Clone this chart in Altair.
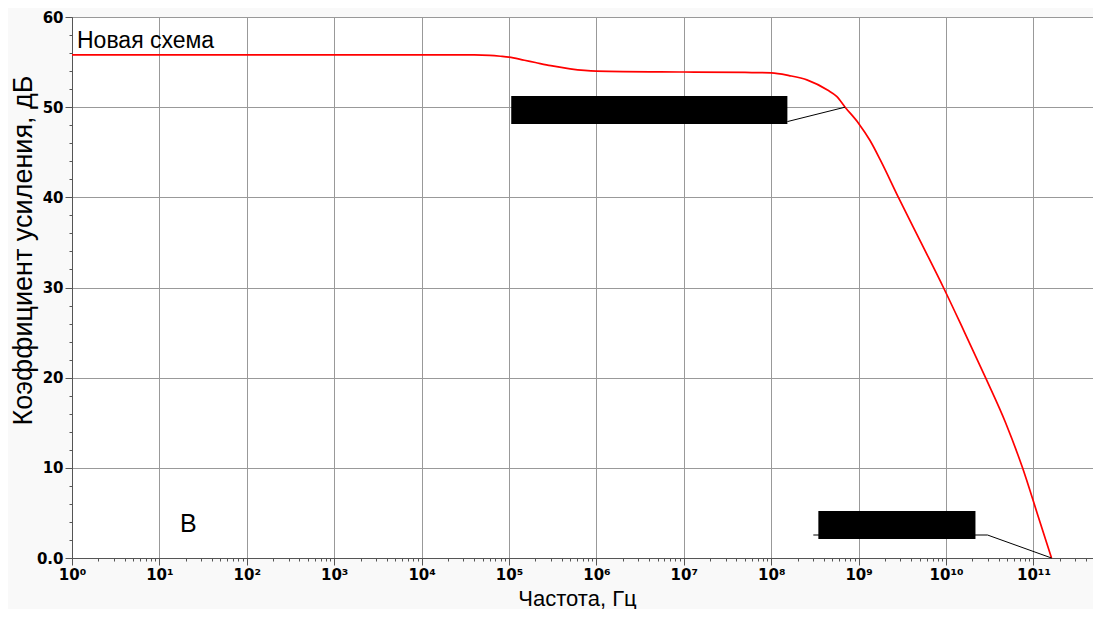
import json
import altair as alt
import pandas as pd

# ---- data ----
freq = [1, 1e4, 4e4, 6e4, 8e4, 1e5, 1.5e5, 2e5, 3e5, 5e5, 1e6, 1e7, 5e7, 1e8,
        1.6e8, 2.6e8, 4.4e8, 5.6e8, 7e8, 1e9, 1.35e9, 1.78e9, 2.85e9, 5.16e9,
        9.33e9, 1.58e10, 2.83e10, 4.8e10, 7.5e10, 1.1e11, 1.61e11]
gain = [55.8, 55.8, 55.8, 55.75, 55.65, 55.55, 55.2, 54.95, 54.6, 54.25, 54.0,
        53.9, 53.85, 53.8, 53.5, 53.0, 51.9, 51.2, 50.0, 48.2, 46.3, 44.1, 40.0,
        35.0, 30.0, 25.3, 20.0, 15.0, 10.0, 5.0, 0.0]

x_tick_labels = ["10⁰", "10¹", "10²", "10³", "10⁴", "10⁵", "10⁶", "10⁷",
                 "10⁸", "10⁹", "10¹⁰", "10¹¹"]
x_domain = [1, 4.8e11]
y_domain = [0, 60]

# annotation boxes (redacted labels) and leader lines, in data units
box_x1 = [1.06e5, 3.46e8]
box_x2 = [1.53e8, 2.17e10]
box_y1 = [48.13, 2.11]
box_y2 = [51.24, 5.21]

lead_x = [1.53e8, 7.0e8, 3.03e8, 2.98e10, 1.61e11]
lead_y = [48.4, 50.0, 2.55, 2.55, 0.0]
lead_grp = [1, 1, 2, 2, 2]

text_label = ["Новая схема"]
text_x = [1.14]
text_y = [56.56]
mark_label = ["В"]
mark_x = [17.2]
mark_y = [2.88]

# ---- tick positions ----
x_major = [10 ** k for k in range(0, 12)]
x_minor = [m * 10 ** k for k in range(0, 12) for m in range(2, 10) if m * 10 ** k <= x_domain[1]]
x_values = sorted(x_major + x_minor)
y_values = list(range(0, 61, 2))

is_decade = "abs(log(datum.value)/LN10 - round(log(datum.value)/LN10)) < 0.001"
x_label_expr = f"({is_decade}) ? {json.dumps(x_tick_labels, ensure_ascii=False)}[round(log(datum.value)/LN10)] : ''"
is_ten = "datum.value % 10 == 0"

AXIS_COLOR = "#555555"
GRID_COLOR = "#999999"

x_axis = alt.Axis(
    values=x_values,
    labelExpr=x_label_expr,
    title="Частота, Гц",
    titleFont="Liberation Sans", titleFontSize=22, titleFontWeight="normal",
    titleColor="black", titleX=505, titleY=47,
    titleAlign="center", titleBaseline="alphabetic",
    labelFont="DejaVu Sans", labelFontSize=15, labelFontWeight="bold",
    labelColor="black", labelPadding=2, labelFlush=False, labelOverlap=False,
    tickSize={"condition": {"test": is_decade, "value": 7}, "value": 3},
    tickColor=AXIS_COLOR, domainColor=AXIS_COLOR,
    gridColor=GRID_COLOR,
    gridOpacity={"condition": {"test": is_decade, "value": 1}, "value": 0},
)
y_axis = alt.Axis(
    values=y_values,
    labelExpr=f"datum.value == 0 ? '0.0' : (({is_ten}) ? datum.label : '')",
    title="Коэффициент усиления, дБ",
    titleFont="Liberation Sans", titleFontSize=27, titleFontWeight="normal",
    titleColor="black", titleX=-41, titleY=233, titleAngle=270,
    titleAlign="center", titleBaseline="alphabetic",
    labelFont="DejaVu Sans", labelFontSize=15, labelFontWeight="bold",
    labelColor="black", labelPadding=2, labelFlush=False, labelOverlap=False,
    tickSize={"condition": {"test": is_ten, "value": 7}, "value": 3},
    tickColor=AXIS_COLOR, domainColor=AXIS_COLOR,
    gridColor=GRID_COLOR,
    gridOpacity={"condition": {"test": is_ten, "value": 1}, "value": 0},
)

xs = alt.Scale(type="log", domain=x_domain, nice=False)
ys = alt.Scale(domain=y_domain, nice=False)

curve_df = pd.DataFrame({"f": freq, "g": gain})
box_df = pd.DataFrame({"x1": box_x1, "x2": box_x2, "y1": box_y1, "y2": box_y2})
lead_df = pd.DataFrame({"lx": lead_x, "ly": lead_y, "grp": lead_grp,
                        "ord": list(range(len(lead_x)))})
txt_df = pd.DataFrame({"tx": text_x, "ty": text_y, "t": text_label})
mk_df = pd.DataFrame({"tx": mark_x, "ty": mark_y, "t": mark_label})

curve = alt.Chart(curve_df).mark_line(
    color="#ff0000", strokeWidth=1.7, interpolate="monotone"
).encode(
    x=alt.X("f:Q", scale=xs, axis=x_axis),
    y=alt.Y("g:Q", scale=ys, axis=y_axis),
)
boxes = alt.Chart(box_df).mark_rect(color="black").encode(
    x=alt.X("x1:Q", scale=xs, axis=x_axis), x2="x2:Q",
    y=alt.Y("y1:Q", scale=ys, axis=y_axis), y2="y2:Q",
)
leaders = alt.Chart(lead_df).mark_line(color="black", strokeWidth=1).encode(
    x=alt.X("lx:Q", scale=xs, axis=x_axis),
    y=alt.Y("ly:Q", scale=ys, axis=y_axis),
    detail="grp:N", order="ord:Q",
)
title_txt = alt.Chart(txt_df).mark_text(
    align="left", baseline="alphabetic", font="Liberation Sans", fontSize=23, color="black"
).encode(
    x=alt.X("tx:Q", scale=xs, axis=x_axis),
    y=alt.Y("ty:Q", scale=ys, axis=y_axis),
    text="t:N",
)
mark_txt = alt.Chart(mk_df).mark_text(
    align="left", baseline="alphabetic", font="Liberation Sans", fontSize=25, color="black"
).encode(
    x=alt.X("tx:Q", scale=xs, axis=x_axis),
    y=alt.Y("ty:Q", scale=ys, axis=y_axis),
    text="t:N",
)

chart = alt.layer(curve, leaders, boxes, title_txt, mark_txt).properties(
    width=1021, height=541,
    autosize=alt.AutoSizeParams(type="none"),
    padding={"left": 64, "top": 9, "right": 0, "bottom": 51},
    background="#f9f9f9",
).configure_view(
    fill="white", stroke="#444444", strokeWidth=1,
)

chart.save("out.html", embed_options={"renderer": "svg", "actions": False})
